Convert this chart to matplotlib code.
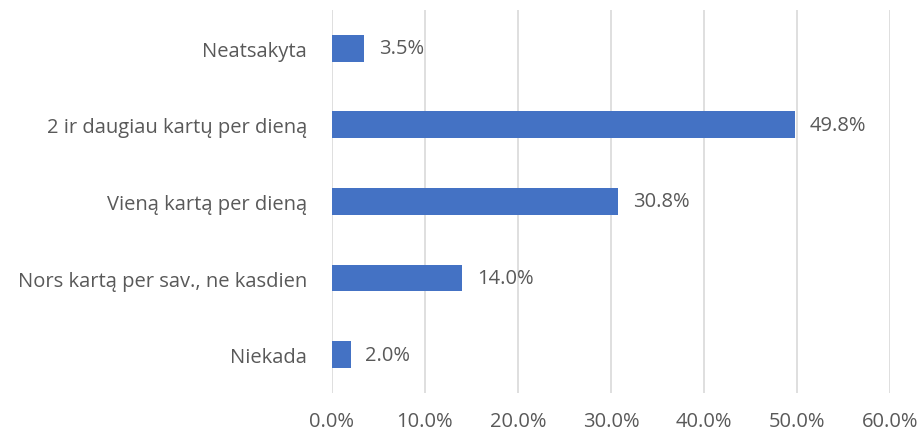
import matplotlib
matplotlib.use('Agg')
import matplotlib.pyplot as plt
from matplotlib.ticker import FuncFormatter

plt.rcParams['font.family'] = ['Open Sans', 'DejaVu Sans']

categories = ['Niekada', 'Nors kartą per sav., ne kasdien', 'Vieną kartą per dieną',
              '2 ir daugiau kartų per dieną', 'Neatsakyta']
values = [2.0, 14.0, 30.8, 49.8, 3.5]

txt = '#595959'
fig = plt.figure(figsize=(9.22, 4.35), dpi=100)
ax = fig.add_axes([0.360, 0.0943, 0.6053, 0.8804])

ax.barh(range(len(values)), values, height=0.35, color='#4472c4', zorder=3)
for i, v in enumerate(values):
    ax.text(v + 1.6, i, f'{v:.1f}%', va='center', ha='left', fontsize=14.5, color=txt)

ax.set_xlim(0, 60)
ax.set_ylim(-0.5, 4.5)
ax.set_xticks(range(0, 61, 10))
ax.xaxis.set_major_formatter(FuncFormatter(lambda x, p: f'{x:.1f}%'))
ax.set_yticks(range(len(categories)))
ax.set_yticklabels(categories)
ax.tick_params(axis='both', length=0, labelsize=14.5, colors=txt)
ax.tick_params(axis='y', pad=18)
ax.tick_params(axis='x', pad=13)
ax.grid(axis='x', color='#d9d9d9', linewidth=1.2, zorder=0)
for s in ax.spines.values():
    s.set_visible(False)

fig.savefig('out.png', dpi=100)
